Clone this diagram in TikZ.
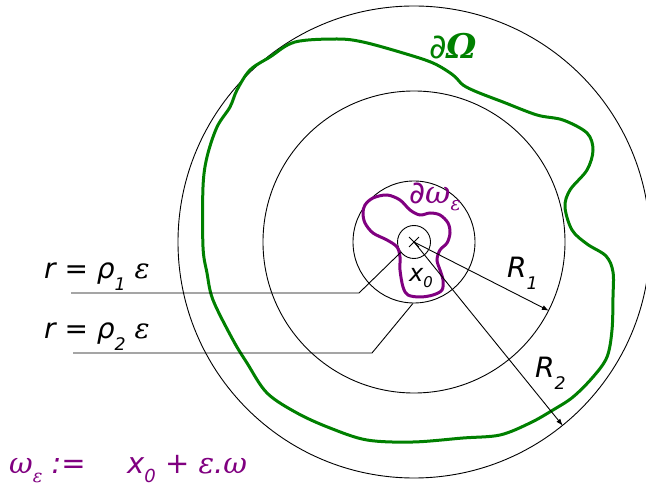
\documentclass[tikz,border=0pt]{standalone}
\usepackage{fontspec}
\setmainfont{DejaVu Sans}
\newfontfamily\grkfont{DejaVu Serif}
\usetikzlibrary{arrows.meta, shapes.misc}
\definecolor{domgreen}{HTML}{008000}
\definecolor{holepurple}{HTML}{800080}
\newcommand{\lowidx}[2][0.42em]{\raisebox{-#1}{\scalebox{0.62}{#2}}}
\newcommand{\gk}[1]{{\grkfont\itshape #1}}

\begin{document}
\begin{tikzpicture}[x=1pt, y=-1pt,
    ring/.style={draw, circle, line width=0.9pt, inner sep=0pt,
                 minimum size=#1},
    leader/.style={line width=0.9pt},
    radius arrow/.style={-{Latex[length=7pt,width=5pt]}, line width=0.9pt},
    lbl/.style={inner sep=0pt, anchor=base west,
                font=\fontsize{28}{32}\selectfont\itshape}]
  \useasboundingbox (0,0) rectangle (646,494);
  \clip (0,0) rectangle (646,494);
  \coordinate (x0) at (414,242);
  % the four circles round x0
  \foreach \nm/\rad in {c0/16.5, c1/61, c2/151, c3/236}
    \node[ring=2*\rad pt] (\nm) at (x0) {};
  \node[cross out, draw, line width=0.9pt, minimum size=9pt,
        inner sep=0pt] (mark) at (x0) {};
  % boundary of Omega
  \draw[domgreen, line width=3pt] plot[smooth cycle, tension=0.55]
    coordinates {(203,247) (203,187) (207,157) (217,127) (230,107)
      (237,90) (250,70) (270,57) (295,42) (337,39) (363,42) (403,53)
      (433,63) (453,75) (463,85) (477,92) (503,102) (537,115) (563,120)
      (587,133) (593,150) (587,170) (570,190) (565,207) (572,230)
      (587,244) (606,256) (613,272) (613,297) (612,330) (607,357)
      (593,377) (573,397) (553,410) (530,423) (500,435) (463,438)
      (413,442) (367,440) (330,428) (297,413) (267,393) (247,363)
      (233,340) (213,300) (207,273)};
  % boundary of the hole
  \draw[holepurple, line width=3pt] plot[smooth cycle, tension=0.55]
    coordinates {(365,205) (373,198) (387,195) (400,200) (410,210)
      (420,215) (430,213) (440,215) (448,223) (450,233) (447,243)
      (440,250) (437,260) (440,270) (443,280) (442,290) (433,295)
      (420,297) (408,295) (403,287) (400,270) (400,257) (397,247)
      (387,240) (373,233) (365,223) (363,213)};
  % radii
  \draw[radius arrow] (x0) -- (c2.-27.6);
  \draw[radius arrow] (x0) -- (c3.-51);
  % leaders to the small circles
  \coordinate (lead1) at (71,293);
  \coordinate (lead2) at (73,353);
  \draw[leader] (lead1) -- ++(288,0) -- (c0.218);
  \draw[leader] (lead2) -- ++(299,0) -- (c1.-91);
  % labels
  \node[lbl] (rho1) at (44,279) {r = ρ\lowidx{1} \gk{ε}};
  \node[lbl] (rho2) at (44,339) {r = ρ\lowidx{2} \gk{ε}};
  \node[lbl] (rad1) at (507,278) {R\lowidx{1}};
  \node[lbl] (rad2) at (535,378) {R\lowidx{2}};
  \node[lbl, font=\fontsize{24}{28}\selectfont\itshape] (ctr) at (409,282)
    {x\lowidx[0.25em]{0}};
  \node[lbl, text=domgreen, font=\fontsize{34}{38}\selectfont\itshape]
    (bnd) at (429,59) {∂{\grkfont\bfseries\itshape Ω}};
  \node[lbl, text=holepurple, font=\fontsize{31}{35}\selectfont\itshape]
    (hole) at (409,204) {∂\gk{ω}\lowidx[0.22em]{\gk{ε}}};
  \node[lbl, text=holepurple, font=\fontsize{29}{33}\selectfont\itshape]
    (defl) at (9,474) {\gk{ω}\lowidx[0.3em]{\gk{ε}} :=};
  \node[lbl, text=holepurple, font=\fontsize{29}{33}\selectfont\itshape]
    (defr) at (127,474) {x\lowidx[0.3em]{0} + \gk{ε}.\gk{ω}};
\end{tikzpicture}
\end{document}
